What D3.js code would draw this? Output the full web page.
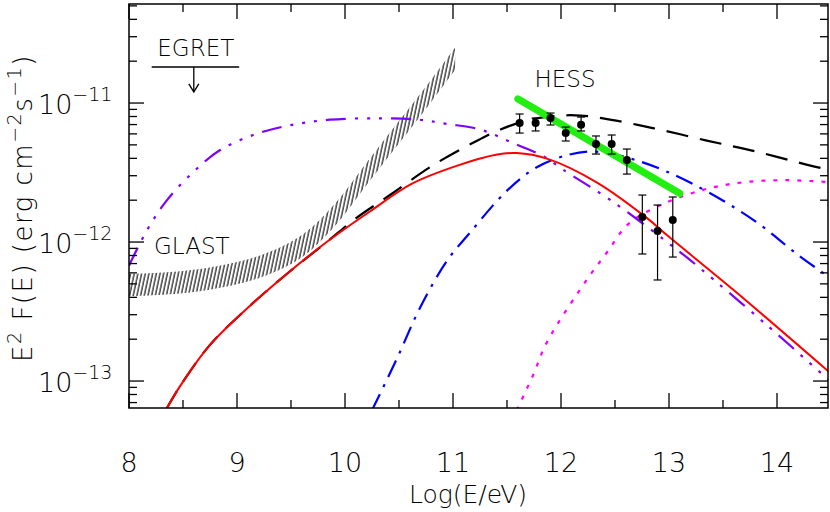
<!DOCTYPE html>
<html><head><meta charset="utf-8">
<script src="https://cdn.jsdelivr.net/npm/d3@7"></script>
<style>body{margin:0;background:#fff}text{font-family:"DejaVu Sans",sans-serif;font-weight:200;fill:#000}</style>
</head><body><svg id="c" width="830" height="512"></svg>
<script>
// log10(E/eV) vs log10(E^2 F)
const total = [[8.34,-13.21],[8.47,-13.04],[8.75,-12.74],[9.09,-12.48],[9.46,-12.23],[9.83,-12.0],[10.23,-11.78],[10.62,-11.58],[11.04,-11.45],[11.41,-11.37],[11.59,-11.36],[11.87,-11.40],[12.33,-11.57],[12.8,-11.83],[12.98,-11.95],[13.59,-12.34],[14.49,-12.94]];
const dashedBlack = [[8.34,-13.21],[8.47,-13.04],[8.75,-12.74],[9.09,-12.48],[9.46,-12.23],[9.83,-12.0],[10.1,-11.83],[10.42,-11.66],[10.81,-11.45],[11.25,-11.26],[11.44,-11.19],[11.71,-11.12],[12.0,-11.09],[12.18,-11.09],[12.39,-11.11],[12.85,-11.18],[13.35,-11.27],[13.81,-11.35],[14.31,-11.45],[14.48,-11.48]];
const purple = [[8.0,-12.17],[8.17,-11.91],[8.35,-11.70],[8.59,-11.50],[8.84,-11.34],[9.15,-11.23],[9.49,-11.16],[9.86,-11.12],[10.32,-11.11],[10.69,-11.12],[10.94,-11.15],[11.25,-11.19],[11.56,-11.29],[11.83,-11.38],[12.02,-11.48],[12.48,-11.71],[13.1,-12.07],[13.29,-12.19],[13.91,-12.60],[14.49,-13.0]];
const blue = [[10.25,-13.21],[10.48,-12.84],[10.69,-12.48],[10.94,-12.14],[11.16,-11.93],[11.5,-11.63],[11.78,-11.46],[12.08,-11.37],[12.33,-11.35],[12.73,-11.42],[13.19,-11.57],[13.78,-11.84],[14.19,-12.09],[14.46,-12.24]];
const magenta = [[11.59,-13.21],[11.74,-12.96],[11.87,-12.72],[12.24,-12.27],[12.43,-12.07],[12.61,-11.88],[12.85,-11.76],[13.29,-11.63],[13.69,-11.57],[14.09,-11.555],[14.49,-11.57]];
const hessFit = [[11.6,-10.97],[13.1,-11.65]];
const glastUpper = [[8.0,-12.23],[8.6,-12.2],[9.2,-12.1],[9.6,-11.95],[9.9,-11.73],[10.2,-11.43],[10.5,-11.13],[10.8,-10.83],[11.02,-10.6]];
const glastWidth = 0.16;
const hessX = [11.617,11.765,11.903,12.044,12.186,12.324,12.469,12.61,12.753,12.894,13.035];
const hessY = [-11.144,-11.144,-11.108,-11.216,-11.156,-11.295,-11.295,-11.41,-11.82,-11.921,-11.842];
const hessHi = [-11.079,-11.108,-11.072,-11.173,-11.101,-11.237,-11.23,-11.331,-11.662,-11.734,-11.676];
const hessLo = [-11.216,-11.201,-11.158,-11.273,-11.201,-11.367,-11.367,-11.511,-12.086,-12.273,-12.108];
const egret = {x0:8.21,x1:9.02,y:-10.74,xa:8.6,ya:-10.92};
const xTicks = [8,9,10,11,12,13,14];
const yTicks = [-13,-12,-11];

const svg = d3.select("#c");
const L=129,R=828,T=4,B=408;
const x = d3.scaleLinear().domain([8,(R-L)/108+8]).range([L,R]);
const y = d3.scaleLinear().domain([-13.194,-13.194+(B-T)/139]).range([B,T]);
const defs = svg.append("defs");
defs.append("clipPath").attr("id","pc").append("rect").attr("x",L).attr("y",T).attr("width",R-L).attr("height",B-T);
const pat = defs.append("pattern").attr("id","hatch").attr("patternUnits","userSpaceOnUse").attr("width",3.6).attr("height",10).attr("patternTransform","rotate(12)");
pat.append("line").attr("x1",1).attr("y1",0).attr("x2",1).attr("y2",10).attr("stroke","#000").attr("stroke-width",1.1);
const g = svg.append("g").attr("clip-path","url(#pc)");
const line = d3.line().x(d=>x(d[0])).y(d=>y(d[1])).curve(d3.curveCatmullRom.alpha(0.5));

const area = d3.area().x(d=>x(d[0])).y0(d=>y(d[1]-glastWidth)).y1(d=>y(d[1])).curve(d3.curveCatmullRom.alpha(0.5));
g.append("path").datum(glastUpper).attr("d",area).attr("fill","url(#hatch)");

const curves = [
 {d:magenta,c:"#ff00ff",dash:"4,8",w:2.2},
 {d:blue,c:"#0000ff",dash:"18,8,3,8",w:2.2},
 {d:purple,c:"#7f00ff",dash:"20,9,3,9,3,9,3,9",w:2.2},
 {d:dashedBlack,c:"#000",dash:"22,12",w:2.2},
 {d:total,c:"#ff0000",dash:null,w:2}
];
curves.forEach(k=>g.append("path").datum(k.d).attr("d",line).attr("fill","none").attr("stroke",k.c).attr("stroke-width",k.w).attr("stroke-dasharray",k.dash));
g.append("path").datum(hessFit).attr("d",d3.line().x(d=>x(d[0])).y(d=>y(d[1]))).attr("stroke","#22ee11").attr("stroke-width",7).attr("stroke-linecap","round").attr("fill","none");

hessX.forEach((xv,i)=>{
  const X=x(xv);
  g.append("line").attr("x1",X).attr("x2",X).attr("y1",y(hessHi[i])).attr("y2",y(hessLo[i])).attr("stroke","#000").attr("stroke-width",1.2);
  [hessHi[i],hessLo[i]].forEach(v=>g.append("line").attr("x1",X-4).attr("x2",X+4).attr("y1",y(v)).attr("y2",y(v)).attr("stroke","#000").attr("stroke-width",1.2));
  g.append("circle").attr("cx",X).attr("cy",y(hessY[i])).attr("r",4).attr("fill","#000");
});

svg.append("line").attr("x1",x(egret.x0)).attr("x2",x(egret.x1)).attr("y1",y(egret.y)).attr("y2",y(egret.y)).attr("stroke","#000").attr("stroke-width",1.5);
svg.append("line").attr("x1",x(egret.xa)).attr("x2",x(egret.xa)).attr("y1",y(egret.y)).attr("y2",y(egret.ya)).attr("stroke","#000").attr("stroke-width",1.3);
svg.append("path").attr("d",`M${x(egret.xa)-5},${y(egret.ya)-8}L${x(egret.xa)},${y(egret.ya)}L${x(egret.xa)+5},${y(egret.ya)-8}`).attr("fill","none").attr("stroke","#000").attr("stroke-width",1.3);
svg.append("text").attr("x",x(egret.xa)+2).attr("y",y(egret.y)-11).attr("text-anchor","middle").attr("font-size",23).text("EGRET");
svg.append("text").attr("x",565).attr("y",87).attr("text-anchor","middle").attr("font-size",23).text("HESS");
svg.append("text").attr("x",154).attr("y",254).attr("font-size",23).text("GLAST");

svg.append("rect").attr("x",L).attr("y",T).attr("width",R-L).attr("height",B-T).attr("fill","none").attr("stroke","#000").attr("stroke-width",1.5);
const tk = svg.append("g").attr("stroke","#000").attr("stroke-width",1.3);
for(let v=8;v<=14.45;v+=0.5){const X=x(v),len=(Math.abs(v-Math.round(v))<1e-6)?15:8;
  tk.append("line").attr("x1",X).attr("x2",X).attr("y1",B).attr("y2",B-len);
  tk.append("line").attr("x1",X).attr("x2",X).attr("y1",T).attr("y2",T+len);}
for(let d=-14;d<=-10;d++){for(let m=1;m<=9;m++){const v=d+Math.log10(m);if(v<y.domain()[0]||v>y.domain()[1])continue;
  const Y=y(v),len=m===1?15:8;
  tk.append("line").attr("x1",L).attr("x2",L+len).attr("y1",Y).attr("y2",Y);
  tk.append("line").attr("x1",R).attr("x2",R-len).attr("y1",Y).attr("y2",Y);}}
xTicks.forEach(v=>svg.append("text").attr("x",x(v)).attr("y",472).attr("text-anchor","middle").attr("font-size",27).text(v));
yTicks.forEach(v=>{const t=svg.append("text").attr("x",38).attr("y",y(v)+11).attr("font-size",27);
  t.append("tspan").text("10");t.append("tspan").attr("dy",-13).attr("font-size",19).text("\u2212"+(-v));});
svg.append("text").attr("x",468).attr("y",503).attr("text-anchor","middle").attr("font-size",25).text("Log(E/eV)");
const yl = svg.append("text").attr("transform","translate(32,208) rotate(-90)").attr("text-anchor","middle").attr("font-size",26).attr("letter-spacing",1.5);
yl.append("tspan").text("E");yl.append("tspan").attr("dy",-11).attr("font-size",19).text("2");
yl.append("tspan").attr("dy",11).text(" F(E)  (erg cm");yl.append("tspan").attr("dy",-11).attr("font-size",19).text("\u22122");
yl.append("tspan").attr("dy",11).text("s");yl.append("tspan").attr("dy",-11).attr("font-size",19).text("\u22121");
yl.append("tspan").attr("dy",11).text(")");
</script></body></html>
